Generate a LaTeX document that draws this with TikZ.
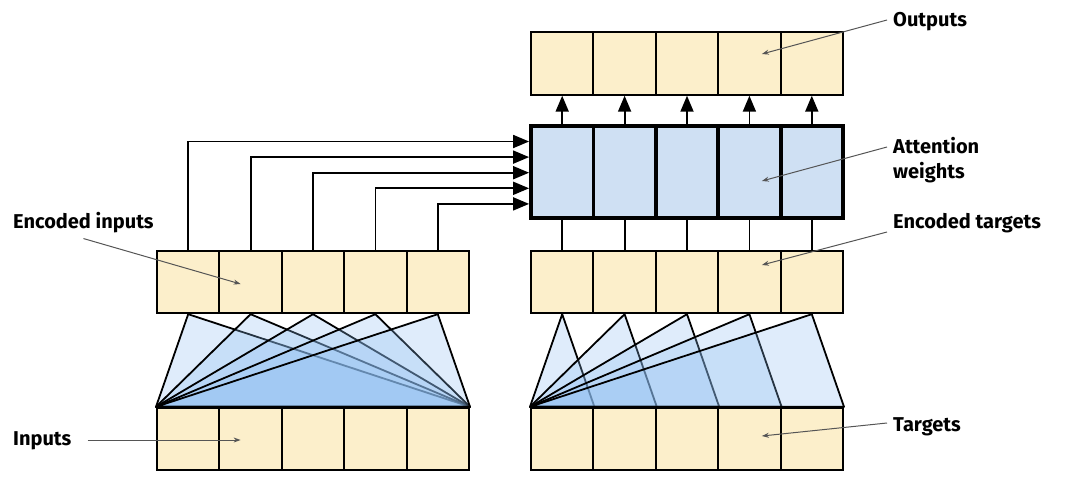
\documentclass[tikz,border=0pt]{standalone}
\usepackage{fontspec}
\setsansfont{Fira Sans}
\usepackage{tikz}
\usetikzlibrary{arrows.meta, positioning, calc, backgrounds}
\definecolor{cellbg}{HTML}{FCEFCB}
\definecolor{attbg}{HTML}{CFE0F3}
\definecolor{fanbg}{HTML}{8BBCF0}
\definecolor{leader}{HTML}{555555}
\tikzset{
    cell/.style={rectangle, draw=black, fill=cellbg, line width=2pt, minimum width=62.4pt, minimum height=62.4pt, inner sep=0pt},
    attcell/.style={rectangle, draw=black, fill=attbg, line width=3.8pt, minimum width=62.4pt, minimum height=92.2pt, inner sep=0pt},
    fan/.style={fill=fanbg, fill opacity=0.28, draw=black, line width=1.8pt, line join=round},
    feed/.style={-{Triangle[length=16pt,width=13pt]}, line width=1.8pt},
    link/.style={line width=1.8pt},
    lbl/.style={font=\sffamily\bfseries\fontsize{20}{25}\selectfont, align=left, inner sep=6pt},
    pointer/.style={-{Stealth[length=7pt,width=5pt]}, draw=leader, line width=1pt}
}

\begin{document}
\begin{tikzpicture}[x=1pt, y=-1pt]
    \useasboundingbox (0,0) rectangle (1080,480);

    % token rows
    \foreach \i in {1,...,5} {
        \node [cell] (in-\i) at ({188.2+62.4*(\i-1)},439) {};
        \node [cell] (enc-\i) at ({188.2+62.4*(\i-1)},282) {};
        \node [cell] (tgt-\i) at ({562.2+62.4*(\i-1)},439) {};
        \node [cell] (enct-\i) at ({562.2+62.4*(\i-1)},282) {};
        \node [attcell] (att-\i) at ({562.2+62.4*(\i-1)},172) {};
        \node [cell] (out-\i) at ({562.2+62.4*(\i-1)},63.5) {};
    }

    % encoder fan (full context) and decoder fan (causal)
    \begin{scope}[on background layer]
    \foreach \i in {1,...,5} {
        \filldraw [fan] (in-1.north west) -- (enc-\i.south) -- (in-5.north east) -- cycle;
        \filldraw [fan] (tgt-1.north west) -- (enct-\i.south) -- (tgt-\i.north east) -- cycle;
    }
    \end{scope}

    % encoded inputs into attention
    \foreach \i in {1,...,5} {
        \coordinate (lvl-\i) at (0,{141.5+15.6*(\i-1)});
        \draw [feed] (enc-\i.north) |- (att-1.west |- lvl-\i);
    }
    \foreach \i in {1,...,5} {
        \draw [link] (enct-\i.north) -- (att-\i.south);
        \draw [feed] (att-\i.north) -- (out-\i.south);
    }

    % labels
    \node [lbl, anchor=west] (l-out) at (887,22) {Outputs};
    \node [lbl, anchor=west] (l-att) at (887,160) {Attention\\weights};
    \node [lbl, anchor=west] (l-enct) at (887,223) {Encoded targets};
    \node [lbl, anchor=west] (l-tgt) at (887,427) {Targets};
    \node [lbl, anchor=west] (l-enc) at (7,223) {Encoded inputs};
    \node [lbl, anchor=west] (l-in) at (7,441) {Inputs};

    \coordinate (p-out) at ([xshift=12.5pt,yshift=9.5pt]out-4.center);
    \coordinate (p-att) at ([xshift=12.5pt,yshift=-9pt]att-4.center);
    \coordinate (p-enct) at ([xshift=12.5pt,yshift=17pt]enct-4.center);
    \coordinate (p-tgt) at ([xshift=12.5pt,yshift=3pt]tgt-4.center);
    \coordinate (p-enc) at ([xshift=-10pt,yshift=-2pt]enc-2.center);
    \coordinate (p-in) at ([xshift=-10pt,yshift=-1pt]in-2.center);

    \draw [pointer] ([yshift=2pt]l-out.west) -- (p-out);
    \draw [pointer] ([yshift=13pt]l-att.west) -- (p-att);
    \draw [pointer] ([yshift=-9pt]l-enct.west) -- (p-enct);
    \draw [pointer] ([yshift=4pt]l-tgt.west) -- (p-tgt);
    \draw [pointer] ([yshift=1pt]l-enc.south) -- (p-enc);
    \draw [pointer] ([xshift=10pt,yshift=1pt]l-in.east) -- (p-in);
\end{tikzpicture}
\end{document}
